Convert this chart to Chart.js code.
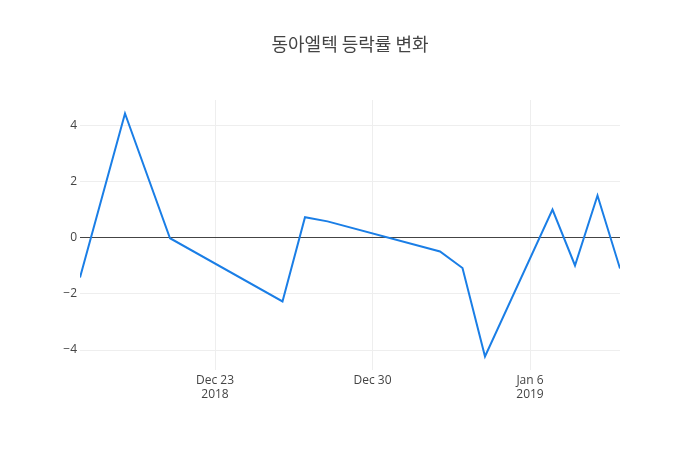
<!DOCTYPE html>
<html>
<head>
<meta charset="utf-8">
<script src="https://cdn.jsdelivr.net/npm/chart.js@4"></script>
<style>
  html, body { margin: 0; padding: 0; background: #fff; }
  canvas { display: block; }
</style>
</head>
<body>
<canvas id="rateChart" width="700" height="450"></canvas>
<script>
// 등락률 데이터 (%)
const dates = [
  "2018-12-17", "2018-12-19", "2018-12-21", "2018-12-26", "2018-12-27",
  "2018-12-28", "2019-01-02", "2019-01-03", "2019-01-04", "2019-01-07",
  "2019-01-08", "2019-01-09", "2019-01-10"
];
const rates = [-1.42, 4.42, -0.02, -2.27, 0.73, 0.58, -0.49, -1.08, -4.23, 1.0, -0.99, 1.5, -1.1];

// 축 눈금
const xTickDates = ["2018-12-23", "2018-12-30", "2019-01-06"];
const xTickLabels = [["Dec 23", "2018"], ["Dec 30"], ["Jan 6", "2019"]];
const yTicks = [-4, -2, 0, 2, 4];

const startDate = "2018-12-17";
const endDate = "2019-01-10";
const dayMs = 86400000;
const dayNum = (d) => (Date.parse(d) - Date.parse(startDate)) / dayMs;

const fontFamily = "'Open Sans', 'Noto Sans CJK KR', sans-serif";

new Chart(document.getElementById("rateChart"), {
  type: "line",
  data: {
    datasets: [
      {
        data: dates.map((d, i) => ({ x: dayNum(d), y: rates[i] })),
        borderColor: "#1a7ee6",
        borderWidth: 2,
        pointRadius: 0,
        tension: 0,
        fill: false,
      },
    ],
  },
  options: {
    responsive: false,
    animation: false,
    layout: { padding: 0 },
    scales: {
      x: {
        type: "linear",
        min: 0,
        max: dayNum(endDate),
        border: { display: false },
        grid: { color: "#eeeeee", drawTicks: false },
        afterBuildTicks: (scale) => {
          scale.ticks = xTickDates.map((d) => ({ value: dayNum(d) }));
        },
        afterFit: (scale) => {
          scale.height = 80;
        },
        ticks: {
          autoSkip: false,
          maxRotation: 0,
          padding: 3,
          color: "#444",
          font: { family: fontFamily, size: 12 },
          callback: (v, i) => xTickLabels[i],
        },
      },
      y: {
        min: -4.71,
        max: 4.9,
        border: { display: false },
        grid: {
          drawTicks: false,
          color: (ctx) => (ctx.tick && ctx.tick.value === 0 ? "#444" : "#eeeeee"),
        },
        afterBuildTicks: (scale) => {
          scale.ticks = yTicks.map((v) => ({ value: v }));
        },
        afterFit: (scale) => {
          scale.width = 80;
        },
        ticks: {
          padding: 3,
          color: "#444",
          font: { family: fontFamily, size: 12 },
          callback: (v) => String(v).replace("-", "\u2212"),
        },
      },
      // 오른쪽 여백용 빈 축 (제목을 가운데에 두기 위해)
      yRight: {
        position: "right",
        border: { display: false },
        grid: { display: false },
        ticks: { display: false },
        afterFit: (scale) => {
          scale.width = 80;
        },
      },
    },
    plugins: {
      legend: { display: false },
      tooltip: { enabled: false },
      title: {
        display: true,
        text: "동아엘텍 등락률 변화",
        color: "#444",
        font: { family: "'Noto Sans CJK KR', sans-serif", size: 18, weight: "normal", lineHeight: 1.2 },
        padding: { top: 33, bottom: 45.4 },
      },
    },
  },
});
</script>
</body>
</html>
